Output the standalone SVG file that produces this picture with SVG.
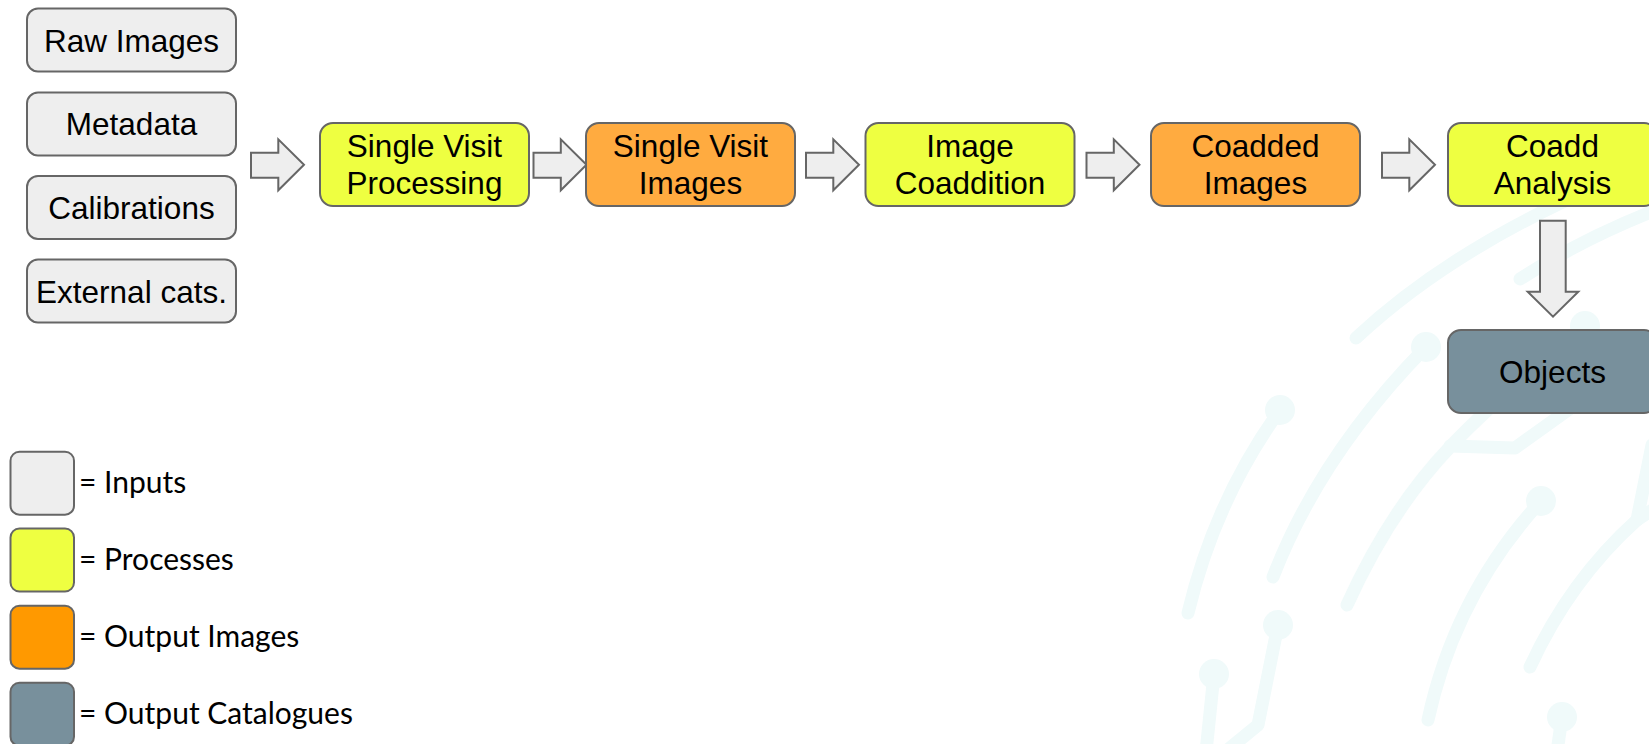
<svg xmlns="http://www.w3.org/2000/svg" width="1649" height="744" viewBox="0 0 1649 744">
<style>
.bg{fill:none;stroke:#f0fafa;stroke-width:13;stroke-linecap:round;stroke-linejoin:round}
.dot{fill:#f0fafa}
.box{stroke:#666666;stroke-width:2}
.in{fill:#eeeeee}
.proc{fill:#eeff41}
.out{fill:#ffab40}
.cat{fill:#78909c}
.lg-out{fill:#ff9900}
.t{font-family:"Liberation Sans",Arial,sans-serif;font-size:31.5px;fill:#000;text-anchor:middle}
.lt{font-family:Lato,"Noto Sans",sans-serif;font-size:30px;fill:#000}
.arr{fill:#eeeeee;stroke:#666666;stroke-width:2;stroke-linejoin:miter}
</style>
<defs>
<path id="ra" d="M0,13.4 H27.3 V0 L53,25.5 L27.3,51 V38.4 H0 Z"/>
</defs>
<rect width="1649" height="744" fill="#ffffff"/>
<g id="background">
<path class="bg" d="M1356,338 Q1450,250 1600,185"/>
<path class="bg" d="M1520,279 Q1580,240 1656,210"/>
<path class="bg" d="M1426,347 Q1320,455 1273,577"/>
<circle class="dot" cx="1426" cy="347" r="15"/>
<path class="bg" d="M1347,605 Q1390,510 1450,447 Q1468,428 1492,406"/>
<path class="bg" d="M1450,446 L1515,448 L1575,405"/>
<circle class="dot" cx="1585" cy="326" r="15"/>
<path class="bg" d="M1280,410 Q1215,500 1188,613"/>
<circle class="dot" cx="1280" cy="410" r="15"/>
<path class="bg" d="M1541,501 Q1455,595 1428,720"/>
<circle class="dot" cx="1541" cy="501" r="15"/>
<path class="bg" d="M1530,667 Q1570,580 1637,520 Q1645,514 1656,508"/>
<path class="bg" d="M1637,520 L1652,445"/>
<path class="bg" d="M1278,625 L1258,725 L1225,752"/>
<circle class="dot" cx="1278" cy="625" r="15"/>
<path class="bg" d="M1214,674 L1206,752"/>
<circle class="dot" cx="1214" cy="674" r="15"/>
<path class="bg" d="M1562,717 L1557,752"/>
<circle class="dot" cx="1562" cy="717" r="15"/>
</g>
<g id="connectors">
<use href="#ra" class="arr" x="251" y="139.3"/>
<use href="#ra" class="arr" x="533.5" y="139.3"/>
<use href="#ra" class="arr" x="806" y="139.3"/>
<use href="#ra" class="arr" x="1086.5" y="139.3"/>
<use href="#ra" class="arr" x="1382" y="139.3"/>
<path class="arr" d="M1540,220.7 H1565.7 V291.7 H1578.3 L1553,316.7 L1527.7,291.7 H1540 Z"/>
</g>
<g id="raw-images"><rect class="box in" x="27" y="8.5" width="209" height="63" rx="11"/><text class="t" x="131.5" y="51.5">Raw Images</text></g>
<g id="metadata"><rect class="box in" x="27" y="92.5" width="209" height="63" rx="11"/><text class="t" x="131.5" y="135">Metadata</text></g>
<g id="calibrations"><rect class="box in" x="27" y="176" width="209" height="63" rx="11"/><text class="t" x="131.5" y="218.5">Calibrations</text></g>
<g id="external-cats"><rect class="box in" x="27" y="259.5" width="209" height="63" rx="11"/><text class="t" x="131.5" y="302.5">External cats.</text></g>
<g id="single-visit-processing"><rect class="box proc" x="320" y="123" width="209" height="83" rx="13"/><text class="t" x="424.5" y="157">Single Visit</text><text class="t" x="424.5" y="193.5">Processing</text></g>
<g id="single-visit-images"><rect class="box out" x="586" y="123" width="209" height="83" rx="13"/><text class="t" x="690.5" y="157">Single Visit</text><text class="t" x="690.5" y="193.5">Images</text></g>
<g id="image-coaddition"><rect class="box proc" x="865.5" y="123" width="209" height="83" rx="13"/><text class="t" x="970" y="157">Image</text><text class="t" x="970" y="193.5">Coaddition</text></g>
<g id="coadded-images"><rect class="box out" x="1151" y="123" width="209" height="83" rx="13"/><text class="t" x="1255.5" y="157">Coadded</text><text class="t" x="1255.5" y="193.5">Images</text></g>
<g id="coadd-analysis"><rect class="box proc" x="1448" y="123" width="209" height="83" rx="13"/><text class="t" x="1552.5" y="157">Coadd</text><text class="t" x="1552.5" y="193.5">Analysis</text></g>
<g id="objects"><rect class="box cat" x="1448" y="330" width="209" height="83" rx="13"/><text class="t" x="1552.5" y="382.5">Objects</text></g>
<g id="legend">
<g id="legend-inputs"><rect class="box in" x="10.5" y="451.7" width="63.5" height="63" rx="9"/><text class="lt" x="79" y="493.3">= Inputs</text></g>
<g id="legend-processes"><rect class="box proc" x="10.5" y="528.5" width="63.5" height="63" rx="9"/><text class="lt" x="79" y="570.3">= Processes</text></g>
<g id="legend-output-images"><rect class="box lg-out" x="10.5" y="605.7" width="63.5" height="63" rx="9"/><text class="lt" x="79" y="647.3">= Output Images</text></g>
<g id="legend-output-catalogues"><rect class="box cat" x="10.5" y="682.7" width="63.5" height="63" rx="9"/><text class="lt" x="79" y="724.3">= Output Catalogues</text></g>
</g>
</svg>
